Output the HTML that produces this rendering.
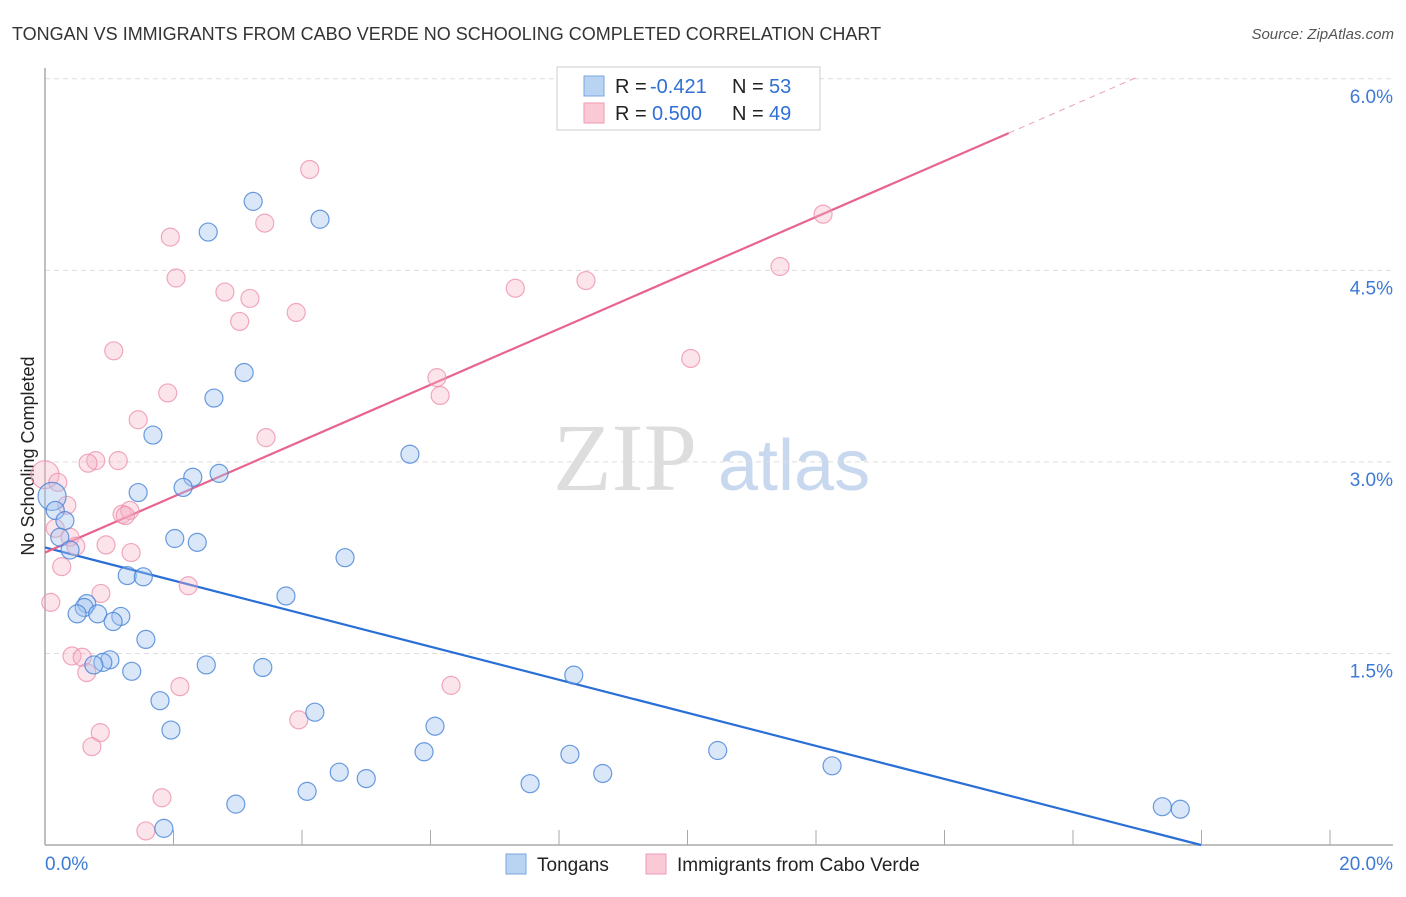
<!DOCTYPE html>
<html><head><meta charset="utf-8"><style>
body{margin:0;background:#fff;font-family:"Liberation Sans",sans-serif;}
</style></head><body>
<svg id="chart" width="1406" height="892" viewBox="0 0 1406 892" xmlns="http://www.w3.org/2000/svg">
<text x="12" y="40" font-size="18" fill="#333">TONGAN VS IMMIGRANTS FROM CABO VERDE NO SCHOOLING COMPLETED CORRELATION CHART</text>
<text x="1394" y="39" font-size="15" fill="#555" font-style="italic" text-anchor="end">Source: ZipAtlas.com</text>
<text transform="translate(34,456) rotate(-90)" font-size="18" fill="#222" text-anchor="middle">No Schooling Completed</text>
<g>
<text x="553" y="490" font-size="96" font-family="Liberation Serif" fill="#ddd">ZIP</text>
<text x="718" y="490" font-size="72" fill="#c8d8ee">atlas</text>
</g>
<g id="grid"></g><g id="axes"></g><g id="lines"></g><g id="pts"></g>
<g>
<rect x="557" y="67" width="263" height="63" fill="#fff" stroke="#ccc"/>
<rect x="584" y="76" width="20" height="20" fill="#b9d3f3" stroke="#7aa6e0"/>
<rect x="584" y="103" width="20" height="20" fill="#f9c9d6" stroke="#ef9ab2"/>
<text x="615" y="93" font-size="20" fill="#222">R =</text>
<text x="650" y="93" font-size="20" fill="#2f6fd6">-0.421</text>
<text x="732" y="93" font-size="20" fill="#222">N =</text>
<text x="769" y="93" font-size="20" fill="#2f6fd6">53</text>
<text x="615" y="120" font-size="20" fill="#222">R =</text>
<text x="652" y="120" font-size="20" fill="#2f6fd6">0.500</text>
<text x="732" y="120" font-size="20" fill="#222">N =</text>
<text x="769" y="120" font-size="20" fill="#2f6fd6">49</text>
</g>
<g>
<rect x="506" y="854" width="20" height="20" fill="#b9d3f3" stroke="#7aa6e0"/>
<text x="537" y="871" font-size="19" fill="#222">Tongans</text>
<rect x="646" y="854" width="20" height="20" fill="#f9c9d6" stroke="#ef9ab2"/>
<text x="677" y="871" font-size="19" fill="#222">Immigrants from Cabo Verde</text>
</g>
</svg>
<script>
const xTicks=[0,2,4,6,8,10,12,14,16,18,20];
const yTicks=[1.5,3.0,4.5,6.0];
const yTickLabels=["1.5%","3.0%","4.5%","6.0%"];
const xLabels=["0.0%","20.0%"];
const blueX=[3.24,4.28,2.54,3.10,2.63,1.68,5.68,2.30,2.71,2.15,1.45,0.11,0.16,0.31,0.23,2.02,2.37,0.39,4.67,1.28,1.53,3.75,0.65,0.61,0.50,0.82,1.18,1.06,1.57,1.01,0.90,0.76,1.35,2.51,3.39,8.23,1.79,4.20,1.96,6.07,5.90,8.17,10.47,4.58,5.00,8.68,12.25,7.55,4.08,2.97,1.85,17.39,17.67];
const blueY=[5.04,4.90,4.80,3.70,3.50,3.21,3.06,2.88,2.91,2.80,2.76,2.73,2.62,2.54,2.41,2.40,2.37,2.31,2.25,2.11,2.10,1.95,1.89,1.86,1.81,1.81,1.79,1.75,1.61,1.45,1.43,1.41,1.36,1.41,1.39,1.33,1.13,1.04,0.90,0.93,0.73,0.71,0.74,0.57,0.52,0.56,0.62,0.48,0.42,0.32,0.13,0.30,0.28];
const pinkX=[4.12,3.42,1.95,12.11,2.04,2.80,3.19,3.03,3.91,7.32,8.42,11.44,1.07,10.05,6.10,1.91,6.15,1.45,3.44,1.14,0.79,0.67,0.0,0.20,0.34,1.20,1.32,1.25,0.16,0.39,0.48,0.95,1.34,0.26,2.23,0.87,0.09,0.42,0.58,0.65,2.10,6.32,3.95,0.86,0.73,1.82,1.57];
const pinkY=[5.29,4.87,4.76,4.94,4.44,4.33,4.28,4.10,4.17,4.36,4.42,4.53,3.87,3.81,3.66,3.54,3.52,3.33,3.19,3.01,3.01,2.99,2.90,2.84,2.66,2.59,2.62,2.58,2.48,2.41,2.34,2.35,2.29,2.18,2.03,1.97,1.90,1.48,1.47,1.35,1.24,1.25,0.98,0.88,0.77,0.37,0.11];
const blueTrend=[2.33,-0.1295];
const pinkTrend=[2.29,0.219];
const pinkSolidEnd=15.0, pinkDashEnd=17.0;
const X=v=>45+v*64.25, Y=v=>845-v*127.7;
const NS="http://www.w3.org/2000/svg";
function mk(parent,tag,attrs){const e=document.createElementNS(NS,tag);for(const k in attrs)e.setAttribute(k,attrs[k]);document.getElementById(parent).appendChild(e);return e;}
yTicks.forEach((t,i)=>{
 const g=mk('grid','line',{x1:45,x2:1393,y1:Y(t),y2:Y(t),stroke:'#ddd','stroke-dasharray':'5,4'});
 
 
 const l=mk('grid','text',{x:1393,y:Y(t)+24,'font-size':19,fill:'#3d7ad6','text-anchor':'end'});
 l.textContent=yTickLabels[i];
 
 
});
const ax=mk('axes','line',{x1:45,x2:45,y1:68,y2:845,stroke:'#aaa','stroke-width':1.5});


const bx=mk('axes','line',{x1:45,x2:1393,y1:845,y2:845,stroke:'#aaa','stroke-width':1.5});


xTicks.forEach(t=>{
 const k=mk('axes','line',{x1:X(t),x2:X(t),y1:830,y2:845,stroke:'#aaa'});
 
 
});
const xl0=mk('axes','text',{x:45,y:870,'font-size':19,fill:'#3d7ad6'});xl0.textContent=xLabels[0];


const xl1=mk('axes','text',{x:1393,y:870,'font-size':19,fill:'#3d7ad6','text-anchor':'end'});xl1.textContent=xLabels[1];


function pts(xs,ys,fill,stroke,name){xs.forEach((x,i)=>{
 const big=(x<0.2&&((name==='tongan-point'&&i===11)||(name==='cabo-verde-point'&&i===22)));
 const c=mk('pts','circle',{cx:X(x),cy:Y(ys[i]),r:big?14:9,fill:fill,stroke:stroke,'stroke-width':1.2});
 
 
});}
pts(pinkX,pinkY,'rgba(246,178,198,0.35)','rgba(236,140,168,0.75)','cabo-verde-point');
pts(blueX,blueY,'rgba(160,195,240,0.4)','rgba(70,130,215,0.8)','tongan-point');
const bEnd=-blueTrend[0]/blueTrend[1];
const bl=mk('lines','line',{x1:X(0),y1:Y(blueTrend[0]),x2:X(bEnd),y2:Y(0),stroke:'#2a6fd6','stroke-width':2.2});


const pl=mk('lines','line',{x1:X(0),y1:Y(pinkTrend[0]),x2:X(pinkSolidEnd),y2:Y(pinkTrend[0]+pinkTrend[1]*pinkSolidEnd),stroke:'#e8648e','stroke-width':2.2});


const pd=mk('lines','line',{x1:X(pinkSolidEnd),y1:Y(pinkTrend[0]+pinkTrend[1]*pinkSolidEnd),x2:X(pinkDashEnd),y2:Y(pinkTrend[0]+pinkTrend[1]*pinkDashEnd),stroke:'#e8a0b6','stroke-width':1,'stroke-dasharray':'6,5'});


</script>
</body></html>
